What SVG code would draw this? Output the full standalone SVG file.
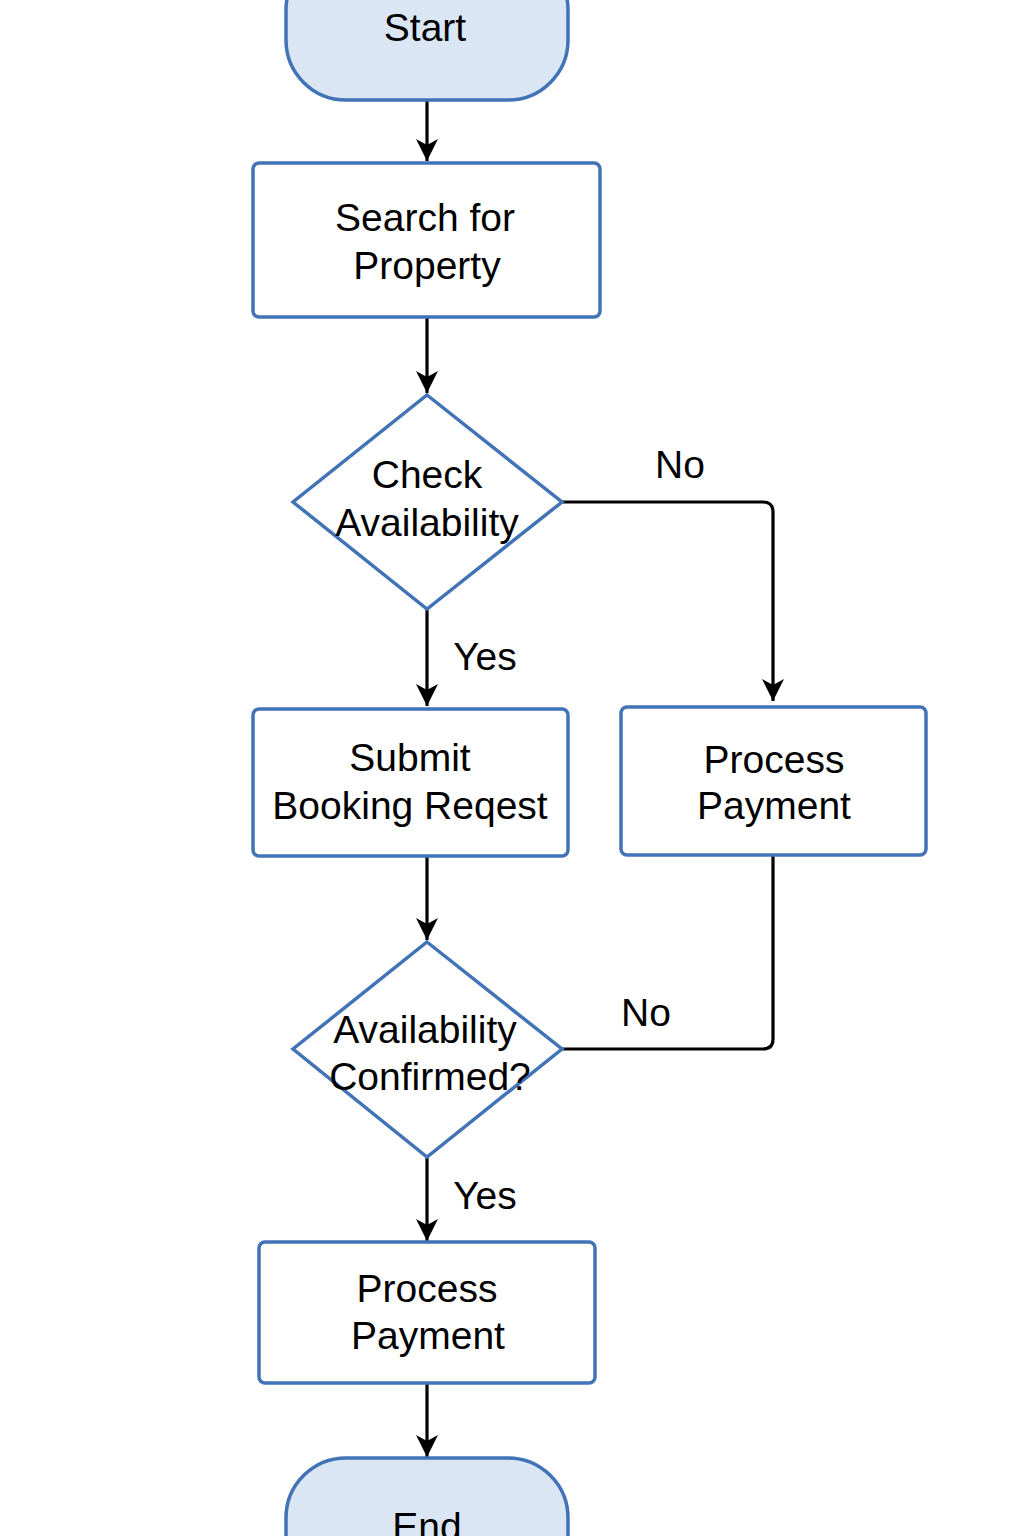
<svg xmlns="http://www.w3.org/2000/svg" width="1024" height="1536" viewBox="0 0 1024 1536">
<style>
.node{fill:#ffffff;stroke:#4173b6;stroke-width:3.5}
.term{fill:#dae6f3;stroke:#4173b6;stroke-width:3.5}
.t{font-family:"Liberation Sans",Arial,sans-serif;font-size:39px;fill:#000;text-anchor:middle}
.edge{fill:none;stroke:#000;stroke-width:3.2}
</style>
<defs>
<marker id="arr" markerUnits="userSpaceOnUse" markerWidth="24" markerHeight="22" refX="22" refY="11" orient="auto" viewBox="0 0 24 22">
<path d="M0,0 L22,11 L0,22 L6,11 Z" fill="#000"/>
</marker>
</defs>
<rect width="1024" height="1536" fill="#ffffff"/>
<g id="connectors">
<line class="edge" x1="427" y1="100" x2="427" y2="161" marker-end="url(#arr)"/>
<line class="edge" x1="427" y1="317" x2="427" y2="393" marker-end="url(#arr)"/>
<path class="edge" d="M562,502 H763 Q773,502 773,512 V701" marker-end="url(#arr)"/>
<line class="edge" x1="427" y1="609" x2="427" y2="706" marker-end="url(#arr)"/>
<line class="edge" x1="427" y1="856" x2="427" y2="940" marker-end="url(#arr)"/>
<path class="edge" d="M773,855 V1039 Q773,1049 763,1049 H562"/>
<line class="edge" x1="427" y1="1157" x2="427" y2="1241" marker-end="url(#arr)"/>
<line class="edge" x1="427" y1="1383" x2="427" y2="1457" marker-end="url(#arr)"/>
<text class="t" x="680" y="478">No</text>
<text class="t" x="485" y="670">Yes</text>
<text class="t" x="646" y="1026">No</text>
<text class="t" x="485" y="1209">Yes</text>
</g>
<g id="start">
<rect class="term" x="286" y="-50" width="282" height="150" rx="60"/>
<text class="t" x="425" y="41">Start</text>
</g>
<g id="search">
<rect class="node" x="253" y="163" width="347" height="154" rx="6"/>
<text class="t" x="425" y="231">Search for</text>
<text class="t" x="427" y="279">Property</text>
</g>
<g id="check">
<polygon class="node" points="427,395 562,502 427,609 293,502"/>
<text class="t" x="427" y="488">Check</text>
<text class="t" x="427" y="536">Availability</text>
</g>
<g id="submit">
<rect class="node" x="253" y="709" width="315" height="147" rx="6"/>
<text class="t" x="410" y="771">Submit</text>
<text class="t" x="410" y="819">Booking Reqest</text>
</g>
<g id="payment1">
<rect class="node" x="621" y="707" width="305" height="148" rx="6"/>
<text class="t" x="774" y="773">Process</text>
<text class="t" x="774" y="819">Payment</text>
</g>
<g id="confirmed">
<polygon class="node" points="427,942 562,1049 427,1157 293,1049"/>
<text class="t" x="425" y="1043">Availability</text>
<text class="t" x="430" y="1090">Confirmed?</text>
</g>
<g id="payment2">
<rect class="node" x="259" y="1242" width="336" height="141" rx="6"/>
<text class="t" x="427" y="1302">Process</text>
<text class="t" x="428" y="1349">Payment</text>
</g>
<g id="end">
<rect class="term" x="286" y="1458" width="282" height="150" rx="60"/>
<text class="t" x="427" y="1540">End</text>
</g>
</svg>
